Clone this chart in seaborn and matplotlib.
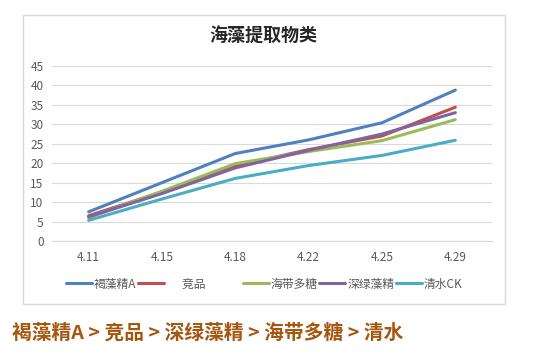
import pandas as pd
import matplotlib.pyplot as plt
import seaborn as sns
from matplotlib.patches import Rectangle

# data
dates = ['4.11', '4.15', '4.18', '4.22', '4.25', '4.29']
series_names = ['褐藻精A', '竞品', '海带多糖', '深绿藻精', '清水CK']
brown_a = [7.5, 15.0, 22.5, 26.0, 30.4, 38.8]
rival = [6.5, 12.6, 19.3, 23.5, 27.0, 34.4]
kelp = [6.0, 12.8, 19.9, 23.0, 25.8, 31.2]
green = [6.2, 12.2, 18.8, 23.3, 27.5, 33.0]
water = [5.3, 10.8, 16.1, 19.4, 22.0, 25.9]
colors = ['#4F81BD', '#C0504D', '#9BBB59', '#8064A2', '#4BACC6']

rows = []
for name, vals in zip(series_names, [brown_a, rival, kelp, green, water]):
    for d, v in zip(dates, vals):
        rows.append({'date': d, 'value': v, 'series': name})
df = pd.DataFrame(rows)

sns.set_style('white')
plt.rcParams['font.family'] = ['Noto Sans CJK SC', 'DejaVu Sans']

fig = plt.figure(figsize=(5.49, 3.6), dpi=100)
fig.patches.append(Rectangle((23 / 549, 1 - 304 / 360), 482 / 549, 289 / 360,
                             transform=fig.transFigure, fill=False,
                             edgecolor='#D9D9D9', linewidth=1))

ax = fig.add_axes([0.0947, 0.3306, 0.8015, 0.4861])
sns.lineplot(data=df, x='date', y='value', hue='series', palette=colors,
             linewidth=2.2, ax=ax, legend=False, sort=False)

ax.set_xlim(-0.5, len(dates) - 0.5)
ax.set_ylim(0, 45)
ax.set_yticks(range(0, 46, 5))
ax.grid(axis='y', color='#D9D9D9', linewidth=0.8)
ax.set_axisbelow(True)
for s in ax.spines.values():
    s.set_visible(False)
ax.spines['bottom'].set_visible(True)
ax.spines['bottom'].set_color('#D9D9D9')
ax.tick_params(axis='both', length=0, labelsize=8.5, labelcolor='#595959')
ax.tick_params(axis='x', pad=7)
ax.tick_params(axis='y', pad=6)
ax.set_xlabel('')
ax.set_ylabel('')

fig.text(0.48, 0.898, '海藻提取物类', ha='center', va='center', fontsize=13,
         fontweight='bold', color='#262626')

handles = [plt.Line2D([], [], color=c, linewidth=2.2) for c in colors]
labels = ['褐藻精A', '\u3000  竞品\u3000\u3000\u3000', '海带多糖', '深绿藻精', '清水CK']
fig.legend(handles, labels, loc='center', bbox_to_anchor=(264 / 549, 1 - 284 / 360),
           ncol=5, frameon=False, fontsize=8.5, handlelength=2.2,
           handletextpad=0.15, columnspacing=0.15, labelcolor='#595959')

fig.text(12 / 549, 1 - 333 / 360, '褐藻精A > 竞品 > 深绿藻精 > 海带多糖 > 清水',
         ha='left', va='center', fontsize=14.2, fontweight='bold', color='#A5560F')

fig.savefig('out.png', dpi=100)
